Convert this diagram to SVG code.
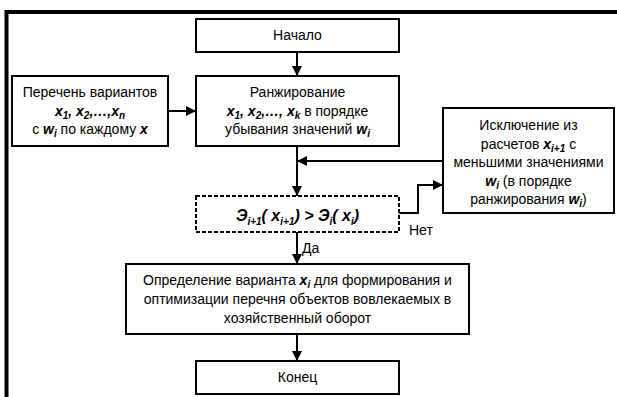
<svg xmlns="http://www.w3.org/2000/svg" width="617" height="397" viewBox="0 0 617 397">
<defs>
<style>
text{font-family:"Liberation Sans",Arial,sans-serif;font-size:14px;fill:#000;text-anchor:middle}
.b{font-weight:bold;font-style:italic}
.s{font-size:10px}
.box{fill:#fff;stroke:#000;stroke-width:2}
.dash{fill:#fff;stroke:#000;stroke-width:2;stroke-dasharray:4 2}
.ln{fill:none;stroke:#000;stroke-width:2}
.brd{fill:none;stroke:#000;stroke-width:4}
</style>
<marker id="ah" markerWidth="10" markerHeight="10" refX="10" refY="5" orient="auto" markerUnits="userSpaceOnUse">
<path d="M0,0 L10,5 L0,10 Z" fill="#000"/>
</marker>
</defs>
<rect width="617" height="397" fill="#fff"/>
<path class="brd" d="M6.5,397 V12 H617"/>

<g id="connectors">
<line class="ln" x1="297" y1="52" x2="297" y2="76" marker-end="url(#ah)"/>
<line class="ln" x1="168" y1="111" x2="196" y2="111" marker-end="url(#ah)"/>
<line class="ln" x1="297" y1="146" x2="297" y2="196" marker-end="url(#ah)"/>
<line class="ln" x1="443" y1="161" x2="297" y2="161" marker-end="url(#ah)"/>
<polyline class="ln" points="399,213 418,213 418,185 443,185" marker-end="url(#ah)"/>
<line class="ln" x1="297" y1="232" x2="297" y2="264" marker-end="url(#ah)"/>
<line class="ln" x1="297" y1="334" x2="297" y2="361" marker-end="url(#ah)"/>
<text x="302" y="253" style="text-anchor:start">Да</text>
<text x="409" y="235" style="text-anchor:start">Нет</text>
</g>

<g id="start">
<rect class="box" x="196" y="19" width="203" height="33"/>
<text x="297.5" y="40">Начало</text>
</g>

<g id="list">
<rect class="box" x="12" y="76" width="156" height="70"/>
<text x="90" y="97">Перечень вариантов</text>
<text x="90" y="116"><tspan class="b">x</tspan><tspan class="b s" dy="3">1</tspan><tspan class="b" dy="-3">, x</tspan><tspan class="b s" dy="3">2</tspan><tspan class="b" dy="-3">,…,x</tspan><tspan class="b s" dy="3">n</tspan></text>
<text x="90" y="134">с <tspan class="b">w</tspan><tspan class="b s" dy="3">i</tspan><tspan dy="-3"> по каждому </tspan><tspan class="b">x</tspan></text>
</g>

<g id="rank">
<rect class="box" x="196" y="76" width="203" height="70"/>
<text x="297.5" y="97">Ранжирование</text>
<text x="297.5" y="116"><tspan class="b">x</tspan><tspan class="b s" dy="3">1</tspan><tspan class="b" dy="-3">, x</tspan><tspan class="b s" dy="3">2</tspan><tspan class="b" dy="-3">,…, x</tspan><tspan class="b s" dy="3">k</tspan><tspan dy="-3"> в порядке</tspan></text>
<text x="297.5" y="134">убывания значений <tspan class="b">w</tspan><tspan class="b s" dy="3">i</tspan></text>
</g>

<g id="exclude">
<rect class="box" x="443" y="108" width="171" height="105"/>
<text x="528.5" y="130">Исключение из</text>
<text x="528.5" y="149">расчетов <tspan class="b">x</tspan><tspan class="b s" dy="3">i+1</tspan><tspan dy="-3"> с</tspan></text>
<text x="528.5" y="167">меньшими значениями</text>
<text x="528.5" y="186"><tspan class="b">w</tspan><tspan class="b s" dy="3">i</tspan><tspan dy="-3"> (в порядке</tspan></text>
<text x="528.5" y="204">ранжирования <tspan class="b">w</tspan><tspan class="b s" dy="3">i</tspan><tspan dy="-3">)</tspan></text>
</g>

<g id="decision">
<rect class="dash" x="196" y="196" width="203" height="36"/>
<text x="297.5" y="221" class="b" style="font-size:16px">Э<tspan class="s" dy="4">i+1</tspan><tspan dy="-4">( x</tspan><tspan class="s" dy="4">i+1</tspan><tspan dy="-4">) &gt; Э</tspan><tspan class="s" dy="4">i</tspan><tspan dy="-4">( x</tspan><tspan class="s" dy="4">i</tspan><tspan dy="-4">)</tspan></text>
</g>

<g id="define">
<rect class="box" x="126" y="264" width="343" height="70"/>
<text x="297.5" y="285">Определение варианта <tspan class="b">x</tspan><tspan class="b s" dy="3">i</tspan><tspan dy="-3"> для формирования и</tspan></text>
<text x="297.5" y="304">оптимизации перечня объектов вовлекаемых в</text>
<text x="297.5" y="323">хозяйственный оборот</text>
</g>

<g id="end">
<rect class="box" x="196" y="361" width="203" height="33"/>
<text x="297.5" y="382">Конец</text>
</g>
</svg>
